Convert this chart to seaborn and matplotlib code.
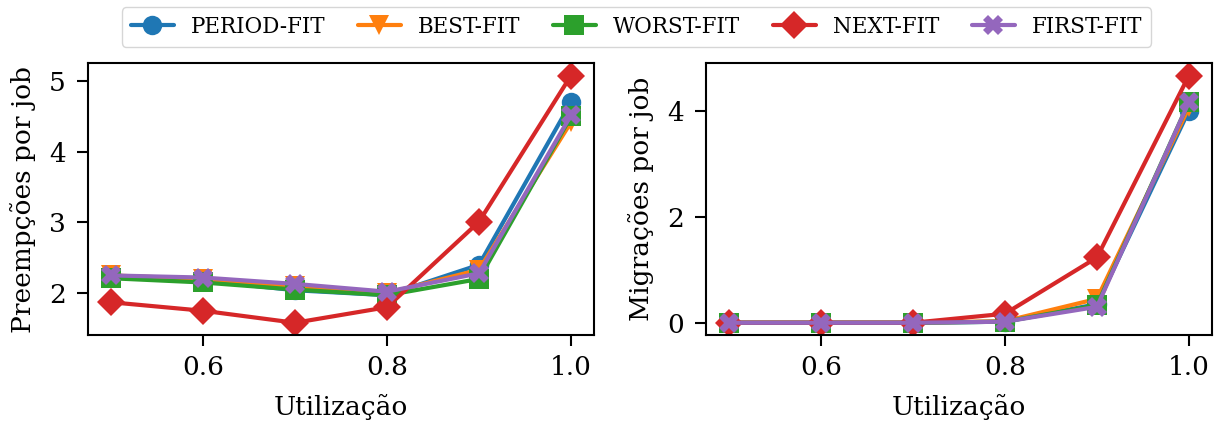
import matplotlib
matplotlib.use("Agg")
import matplotlib.pyplot as plt
import seaborn as sns
import pandas as pd

utilizacao = [0.5, 0.6, 0.7, 0.8, 0.9, 1.0]
algoritmos = ["PERIOD-FIT", "BEST-FIT", "WORST-FIT", "NEXT-FIT", "FIRST-FIT"]
marcadores = ["o", "v", "s", "D", "X"]

preempcoes = {
    "PERIOD-FIT": [2.25, 2.18, 2.04, 1.97, 2.40, 4.70],
    "BEST-FIT":   [2.25, 2.20, 2.10, 2.00, 2.33, 4.42],
    "WORST-FIT":  [2.21, 2.15, 2.05, 1.97, 2.20, 4.50],
    "NEXT-FIT":   [1.87, 1.75, 1.58, 1.80, 3.01, 5.08],
    "FIRST-FIT":  [2.25, 2.22, 2.13, 2.02, 2.28, 4.52],
}
migracoes = {
    "PERIOD-FIT": [0.0, 0.0, 0.0, 0.02, 0.35, 4.00],
    "BEST-FIT":   [0.0, 0.0, 0.0, 0.03, 0.45, 4.06],
    "WORST-FIT":  [0.0, 0.0, 0.0, 0.02, 0.33, 4.16],
    "NEXT-FIT":   [0.0, 0.0, 0.0, 0.17, 1.23, 4.66],
    "FIRST-FIT":  [0.0, 0.0, 0.0, 0.02, 0.30, 4.16],
}

def to_df(d):
    rows = []
    for alg in algoritmos:
        for u, v in zip(utilizacao, d[alg]):
            rows.append({"u": u, "v": v, "alg": alg})
    return pd.DataFrame(rows)

sns.set_style("ticks", {"axes.edgecolor": "black", "text.color": "black",
                        "axes.labelcolor": "black", "xtick.color": "black",
                        "ytick.color": "black"})
plt.rcParams["font.family"] = ["DejaVu Serif"]

palette = dict(zip(algoritmos, sns.color_palette("tab10", 5)))
mk = dict(zip(algoritmos, marcadores))

fig, axes = plt.subplots(1, 2, figsize=(12.2, 4.21), dpi=100)
for ax, d, ylabel in [(axes[0], preempcoes, "Preempções por job"),
                      (axes[1], migracoes, "Migrações por job")]:
    df = to_df(d)
    sns.lineplot(data=df, x="u", y="v", hue="alg", style="alg", markers=mk,
                 dashes=False, palette=palette, hue_order=algoritmos,
                 style_order=algoritmos, linewidth=3, markersize=14,
                 markeredgewidth=0, ax=ax, legend=(ax is axes[0]))
    ax.set_xlabel("Utilização", fontsize=19, labelpad=10.5)
    ax.set_ylabel(ylabel, fontsize=19, labelpad=9)
    ax.tick_params(labelsize=19, width=1.5, length=8)
    ax.tick_params(axis="x", pad=6)
    ax.tick_params(axis="y", pad=8)
    for s in ax.spines.values():
        s.set_linewidth(1.5)
    ax.set_xticks([0.6, 0.8, 1.0])

axes[0].set_yticks([2, 3, 4, 5])
axes[1].set_yticks([0, 2, 4])

handles, labels = axes[0].get_legend_handles_labels()
axes[0].get_legend().remove()
fig.legend(handles, labels, loc="upper center", ncol=5, fontsize=15.5,
           bbox_to_anchor=(0.5217, 1.008), frameon=True, handlelength=2.0,
           columnspacing=1.5, handletextpad=0.8)

fig.subplots_adjust(left=0.0721, right=0.9934, top=0.850, bottom=0.204, wspace=0.221)
fig.savefig("out.png", dpi=100)
